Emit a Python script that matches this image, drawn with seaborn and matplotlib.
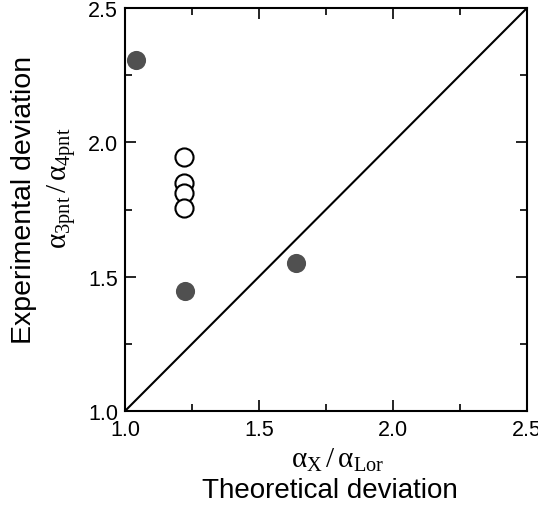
import matplotlib
matplotlib.use("Agg")
import matplotlib.pyplot as plt
import seaborn as sns
import pandas as pd
from matplotlib.ticker import MultipleLocator, FormatStrFormatter

# Data
filled_x = [1.04, 1.224, 1.638]
filled_y = [2.306, 1.448, 1.552]
open_x = [1.22, 1.22, 1.22, 1.22]
open_y = [1.944, 1.847, 1.813, 1.757]
diag = [1.0, 2.5]

sns.set_theme(style="ticks")
plt.rcParams['font.family'] = ['Liberation Sans', 'DejaVu Sans']
plt.rcParams['mathtext.fontset'] = 'custom'
plt.rcParams['mathtext.rm'] = 'Liberation Serif'
plt.rcParams['mathtext.it'] = 'Liberation Serif'
plt.rcParams['mathtext.default'] = 'rm'
plt.rcParams['text.color'] = 'black'
plt.rcParams['xtick.labelcolor'] = 'black'
plt.rcParams['ytick.labelcolor'] = 'black'

fig = plt.figure(figsize=(5.38, 5.06), dpi=100)
ax = fig.add_axes([125/538, 1 - 412/506, 402/538, 403/506])

df_f = pd.DataFrame({"x": filled_x, "y": filled_y})
df_o = pd.DataFrame({"x": open_x, "y": open_y})
df_d = pd.DataFrame({"x": diag, "y": diag})

sns.lineplot(data=df_d, x="x", y="y", ax=ax, color="black", linewidth=1.5)
sns.scatterplot(data=df_o, x="x", y="y", ax=ax, s=170, facecolor="white",
                edgecolor="black", linewidth=1.5, zorder=3)
sns.scatterplot(data=df_f, x="x", y="y", ax=ax, s=190, color="#505050",
                edgecolor="#505050", linewidth=0, zorder=3)

ax.set_xlim(1.0, 2.5)
ax.set_ylim(1.0, 2.5)
ax.xaxis.set_major_locator(MultipleLocator(0.5))
ax.yaxis.set_major_locator(MultipleLocator(0.5))
ax.xaxis.set_minor_locator(MultipleLocator(0.25))
ax.yaxis.set_minor_locator(MultipleLocator(0.25))
ax.tick_params(which="both", direction="in", top=True, right=True,
               labelsize=15.5, width=1.2, color="black", labelcolor="black")
ax.tick_params(which="major", length=8)
ax.tick_params(which="minor", length=5)
ax.tick_params(axis="x", pad=5.5)
ax.tick_params(axis="y", pad=5)
ax.xaxis.set_major_formatter(FormatStrFormatter('%.1f'))
ax.yaxis.set_major_formatter(FormatStrFormatter('%.1f'))
for sp in ax.spines.values():
    sp.set_linewidth(1.5)
    sp.set_color("black")
ax.set_xlabel("")
ax.set_ylabel("")

fig.text(338/538, 1 - 468/506, r'$\alpha_{X}\,/\,\alpha_{Lor}$',
         ha='center', va='baseline', fontsize=21, color='black')
fig.text(330/538, 1 - 498/506, "Theoretical deviation", ha='center', va='baseline',
         fontsize=20, color='black')
fig.text(24/538, 1 - 200/506, "Experimental deviation", ha='center', va='center',
         rotation=90, fontsize=20.5, color='black')
fig.text(61/538, 1 - 188/506, r'$\alpha_{3pnt}\,/\,\alpha_{4pnt}$',
         ha='center', va='center', rotation=90, fontsize=21, color='black')

fig.savefig("out.png", dpi=100)
